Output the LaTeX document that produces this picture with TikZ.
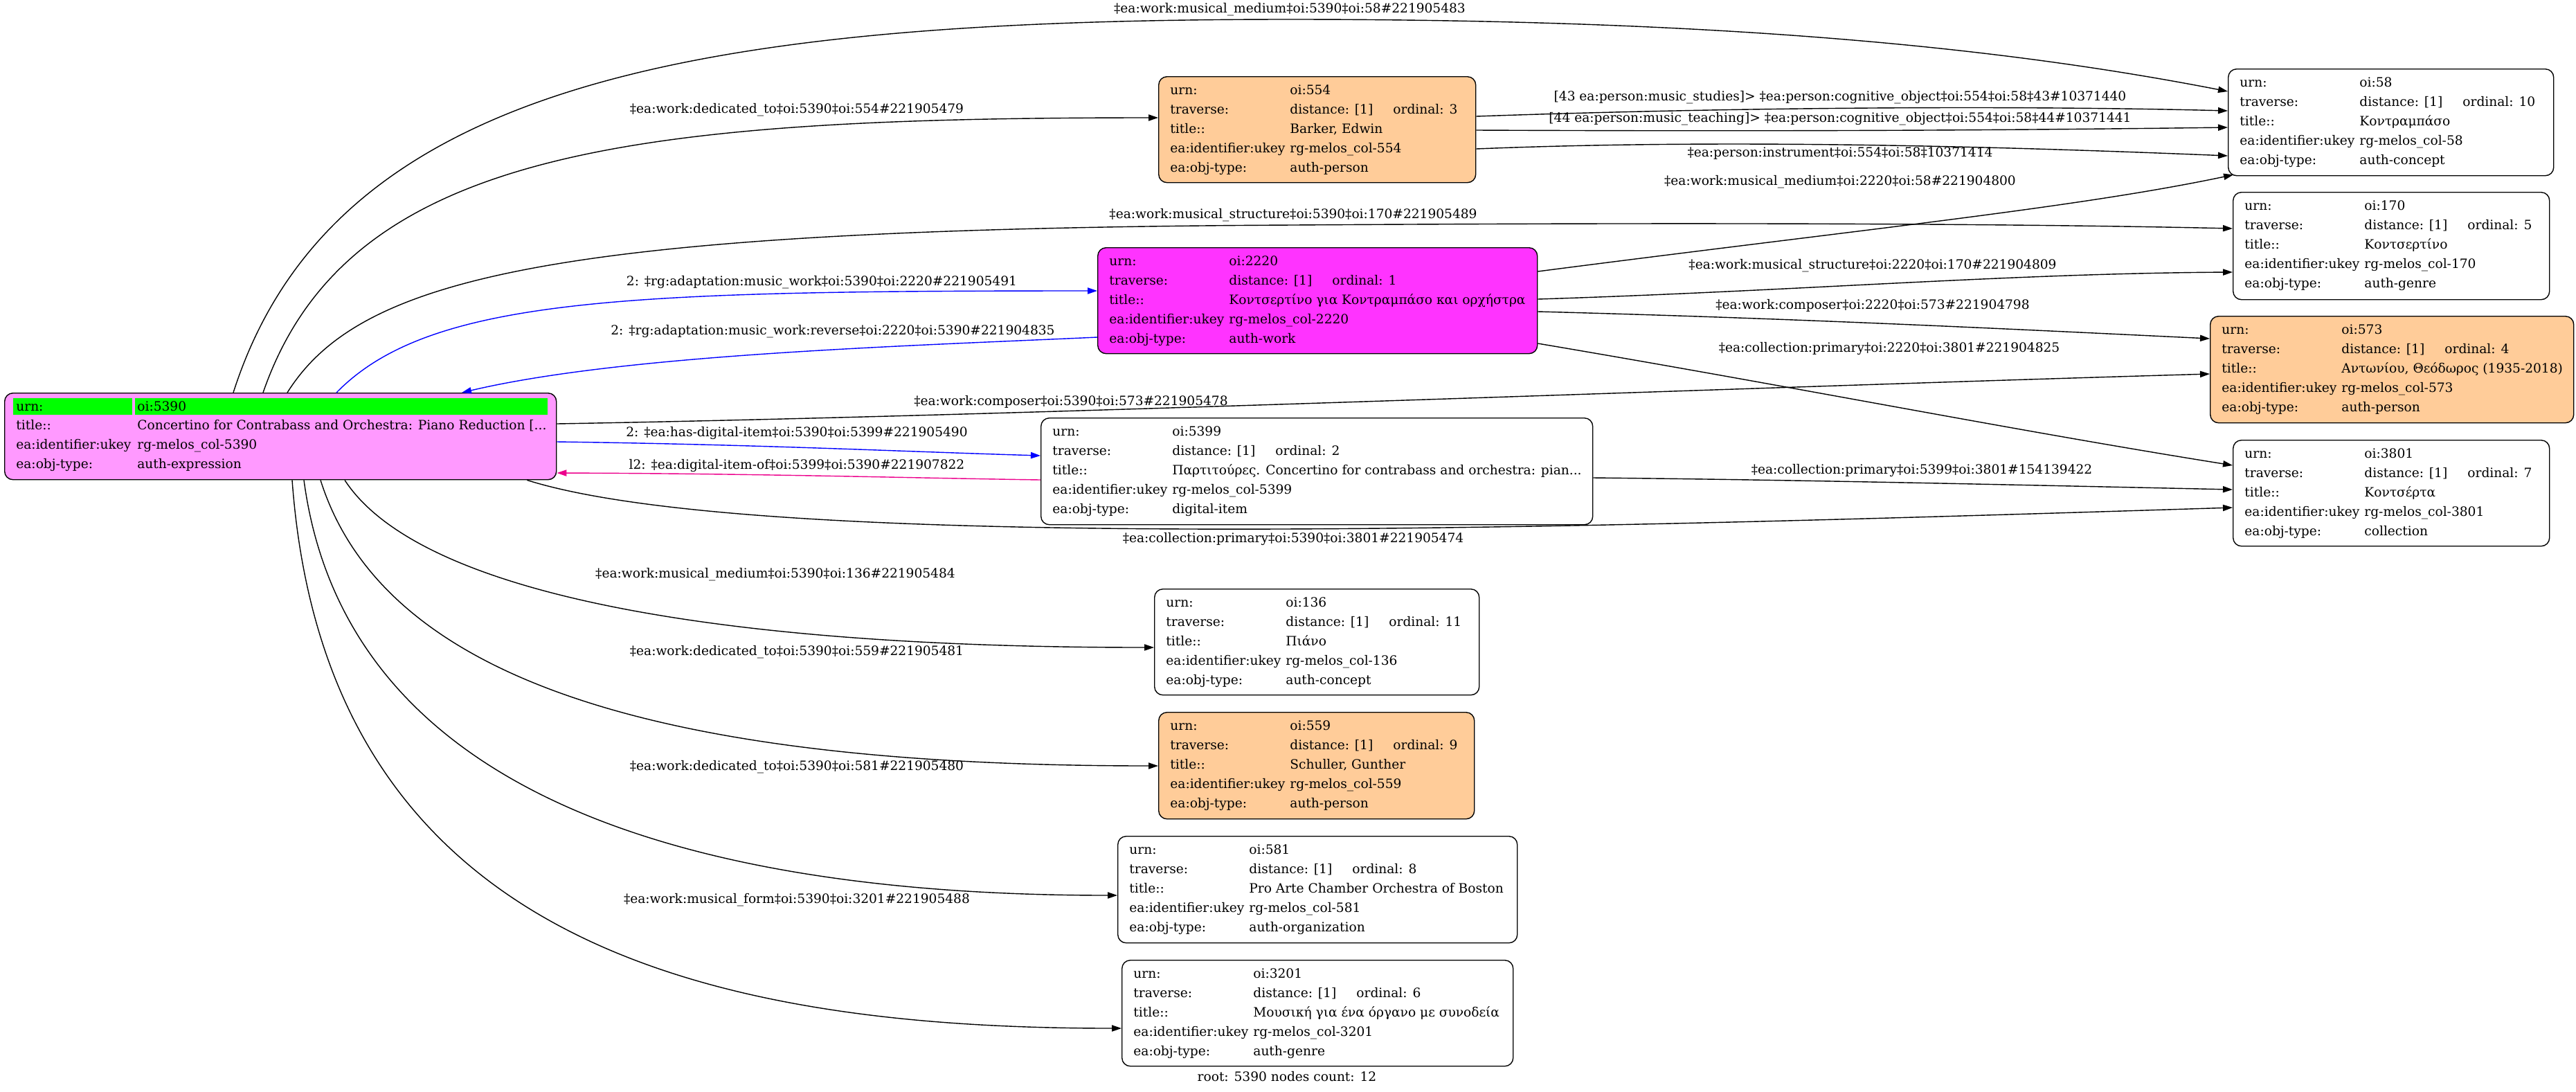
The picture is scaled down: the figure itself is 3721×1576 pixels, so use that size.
\documentclass[tikz,border=0pt]{standalone}
\usepackage{fontspec}
\setmainfont{DejaVu Serif}
\usetikzlibrary{arrows.meta, calc, positioning}
\definecolor{recorange}  {RGB}{255, 204, 153}
\definecolor{recpink}    {RGB}{255, 153, 255}
\definecolor{recmagenta} {RGB}{255,  51, 255}
\definecolor{recgreen}   {RGB}{  0, 255,   0}
\newcommand{\fsz}{\fontsize{9.3pt}{11pt}\selectfont}
% the five rows of a record: node, number, ordinal, title, type
\newcommand{\recfields}[5]{%
  \node[fld] (#1-k1) at ($(#1.north west)+(17,26)$)     {urn:};
  \node[fld] (#1-v1) at ($(#1.north west)+(190,26)$)    {oi:#2};
  \node[fld] (#1-k2) at ($(#1.north west)+(17,54.5)$)   {traverse:};
  \node[fld] (#1-v2) at ($(#1.north west)+(190,54.5)$)  {distance: [1]};
  \node[fld] (#1-o2) at ($(#1.north west)+(339,54.5)$)  {ordinal: #3};
  \node[fld] (#1-k3) at ($(#1.north west)+(17,82.5)$)   {title::};
  \node[fld] (#1-v3) at ($(#1.north west)+(190,82.5)$)  {#4};
  \node[fld] (#1-k4) at ($(#1.north west)+(17,110.5)$)  {ea:identifier:ukey};
  \node[fld] (#1-v4) at ($(#1.north west)+(190,110.5)$) {rg-melos\_col-#2};
  \node[fld] (#1-k5) at ($(#1.north west)+(17,138.5)$)  {ea:obj-type:};
  \node[fld] (#1-v5) at ($(#1.north west)+(190,138.5)$) {#5};}

\begin{document}
\begin{tikzpicture}[x=0.5pt, y=-0.5pt,
	rec/.style={draw, line width=0.7pt, rounded corners=6pt, anchor=north west, inner sep=0pt},
	sz/.style 2 args={minimum width=#1*0.5pt, minimum height=#2*0.5pt},
	fld/.style={anchor=base west, inner sep=0pt, font=\fsz},
	elab/.style={inner sep=0pt, font=\fsz},
	edge/.style={line width=0.7pt, -{Triangle[length=7pt, width=4.6pt]}}]
\useasboundingbox (0,0) rectangle (3721,1576);

% records
\node[rec, fill=recpink, sz={797}{125}] (root) at (6,567) {};
\fill[recgreen] ($(root.north west)+(13,8)$) rectangle ($(root.north west)+(185,32)$);
\fill[recgreen] ($(root.north west)+(189,8)$) rectangle ($(root.north west)+(785,32)$);
\node[fld] (root-k1) at ($(root.north west)+(17,26)$)  {urn:};
\node[fld] (root-v1) at ($(root.north west)+(192,26)$) {oi:5390};
\node[fld] (root-k2) at ($(root.north west)+(17,53)$)  {title::};
\node[fld] (root-v2) at ($(root.north west)+(192,53)$) {Concertino for Contrabass and Orchestra: Piano Reduction [...};
\node[fld] (root-k3) at ($(root.north west)+(17,81)$)  {ea:identifier:ukey};
\node[fld] (root-v3) at ($(root.north west)+(192,81)$) {rg-melos\_col-5390};
\node[fld] (root-k4) at ($(root.north west)+(17,109)$) {ea:obj-type:};
\node[fld] (root-v4) at ($(root.north west)+(192,109)$) {auth-expression};

\node[rec, fill=recorange, sz={458}{153}] (n554) at (1673,110) {};
\recfields{n554}{554}{3}{Barker, Edwin}{auth-person}
\node[rec, fill=recmagenta, sz={635}{153}] (n2220) at (1585,357) {};
\recfields{n2220}{2220}{1}{Κοντσερτίνο για Κοντραμπάσο και ορχήστρα}{auth-work}
\node[rec, fill=white, sz={797}{154}] (n5399) at (1503,603) {};
\recfields{n5399}{5399}{2}{Παρτιτούρες. Concertino for contrabass and orchestra: pian...}{digital-item}
\node[rec, fill=white, sz={470}{154}] (n58) at (3218,99) {};
\recfields{n58}{58}{10}{Κοντραμπάσο}{auth-concept}
\node[rec, fill=white, sz={457}{155}] (n170) at (3225,277) {};
\recfields{n170}{170}{5}{Κοντσερτίνο}{auth-genre}
\node[rec, fill=recorange, sz={525}{154}] (n573) at (3192,456) {};
\recfields{n573}{573}{4}{Αντωνίου, Θεόδωρος (1935-2018)}{auth-person}
\node[rec, fill=white, sz={457}{153}] (n3801) at (3225,635) {};
\recfields{n3801}{3801}{7}{Κοντσέρτα}{collection}
\node[rec, fill=white, sz={469}{153}] (n136) at (1667,850) {};
\recfields{n136}{136}{11}{Πιάνο}{auth-concept}
\node[rec, fill=recorange, sz={456}{154}] (n559) at (1673,1028) {};
\recfields{n559}{559}{9}{Schuller, Gunther}{auth-person}
\node[rec, fill=white, sz={577}{154}] (n581) at (1614,1207) {};
\recfields{n581}{581}{8}{Pro Arte Chamber Orchestra of Boston}{auth-organization}
\node[rec, fill=white, sz={565}{153}] (n3201) at (1620,1386) {};
\recfields{n3201}{3201}{6}{Μουσική για ένα όργανο με συνοδεία}{auth-genre}

% edges from the root
\draw[edge] ($(root.north west)+(331,0)$) .. controls (480,120) and (1000,28) .. (1863,28)
	.. controls (2500,28) and (2900,70) .. ($(n58.north west)+(0,33)$);
\draw[edge] ($(root.north west)+(374,0)$) .. controls (500,220) and (900,170) .. ($(n554.north west)+(0,60)$);
\draw[edge] ($(root.north west)+(409,0)$) .. controls (520,400) and (800,330) .. (1868,325)
	.. controls (2600,320) and (3000,325) .. ($(n170.north west)+(0,53)$);
\draw[edge, blue] ($(root.north west)+(480,0)$) .. controls (620,430) and (900,420) .. ($(n2220.north west)+(0,63)$);
\draw[edge, blue] ($(n2220.north west)+(0,130)$) .. controls (1300,500) and (900,512) .. ($(root.north west)+(661,0)$);
\draw[edge] ($(root.north east)+(0,45)$) .. controls (1500,600) and (2500,560) .. ($(n573.north west)+(0,84)$);
\draw[edge, blue] ($(root.north east)+(0,71)$) .. controls (1100,642) and (1300,652) .. ($(n5399.north west)+(0,55)$);
\draw[edge, magenta] ($(n5399.north west)+(0,90)$) .. controls (1300,690) and (1100,684) .. ($(root.north east)+(0,116)$);
\draw[edge] ($(root.south east)+(-43,0)$) .. controls (1100,800) and (2300,762) .. ($(n3801.north west)+(0,98)$);
\draw[edge] ($(root.south west)+(492,0)$) .. controls (600,850) and (1000,935) .. ($(n136.north west)+(0,85)$);
\draw[edge] ($(root.south west)+(457,0)$) .. controls (560,1000) and (1000,1106) .. ($(n559.north west)+(0,78)$);
\draw[edge] ($(root.south west)+(433,0)$) .. controls (500,1150) and (1000,1293) .. ($(n581.north west)+(0,86)$);
\draw[edge] ($(root.south west)+(416,0)$) .. controls (470,1350) and (1000,1485) .. ($(n3201.north west)+(0,99)$);

% edges between the other records
\draw[edge] ($(n554.north east)+(0,58)$) .. controls (2500,155) and (2900,152) .. ($(n58.north west)+(0,61)$);
\draw[edge] ($(n554.north east)+(0,78)$) .. controls (2600,190) and (2900,188) .. ($(n58.north west)+(0,85)$);
\draw[edge] ($(n554.north east)+(0,105)$) .. controls (2500,200) and (2900,212) .. ($(n58.north west)+(0,126)$);
\draw[edge] ($(n2220.north east)+(0,35)$) .. controls (2700,330) and (3000,300) .. ($(n58.south west)+(8,-2)$);
\draw[edge] ($(n2220.north east)+(0,75)$) .. controls (2600,420) and (2900,395) .. ($(n170.north west)+(0,116)$);
\draw[edge] ($(n2220.north east)+(0,93)$) .. controls (2600,460) and (2900,475) .. ($(n573.north west)+(0,33)$);
\draw[edge] ($(n2220.north east)+(0,139)$) .. controls (2600,560) and (2900,620) .. ($(n3801.north west)+(0,37)$);
\draw[edge] ($(n5399.north east)+(0,87)$) .. controls (2600,693) and (2900,700) .. ($(n3801.north west)+(0,72)$);

% edge labels
\node[elab] (l1)  at (1863,14)  {‡ea:work:musical\_medium‡oi:5390‡oi:58\#221905483};
\node[elab] (l2)  at (1151,159) {‡ea:work:dedicated\_to‡oi:5390‡oi:554\#221905479};
\node[elab] (l3)  at (1868,311) {‡ea:work:musical\_structure‡oi:5390‡oi:170\#221905489};
\node[elab] (l4)  at (1187,408) {2: ‡rg:adaptation:music\_work‡oi:5390‡oi:2220\#221905491};
\node[elab] (l5)  at (1203,479) {2: ‡rg:adaptation:music\_work:reverse‡oi:2220‡oi:5390\#221904835};
\node[elab] (l6)  at (1547,580) {‡ea:work:composer‡oi:5390‡oi:573\#221905478};
\node[elab] (l7)  at (1151,625) {2: ‡ea:has-digital-item‡oi:5390‡oi:5399\#221905490};
\node[elab] (l8)  at (1151,672) {l2: ‡ea:digital-item-of‡oi:5399‡oi:5390\#221907822};
\node[elab] (l9)  at (1868,778) {‡ea:collection:primary‡oi:5390‡oi:3801\#221905474};
\node[elab] (l10) at (1120,830) {‡ea:work:musical\_medium‡oi:5390‡oi:136\#221905484};
\node[elab] (l11) at (1151,942) {‡ea:work:dedicated\_to‡oi:5390‡oi:559\#221905481};
\node[elab] (l12) at (1151,1108) {‡ea:work:dedicated\_to‡oi:5390‡oi:581\#221905480};
\node[elab] (l13) at (1151,1300) {‡ea:work:musical\_form‡oi:5390‡oi:3201\#221905488};
\node[elab] (l14) at (2658,141) {[43 ea:person:music\_studies]> ‡ea:person:cognitive\_object‡oi:554‡oi:58‡43\#10371440};
\node[elab] (l15) at (2658,172) {[44 ea:person:music\_teaching]> ‡ea:person:cognitive\_object‡oi:554‡oi:58‡44\#10371441};
\node[elab] (l16) at (2658,222) {‡ea:person:instrument‡oi:554‡oi:58‡10371414};
\node[elab] (l17) at (2658,263) {‡ea:work:musical\_medium‡oi:2220‡oi:58\#221904800};
\node[elab] (l18) at (2705,384) {‡ea:work:musical\_structure‡oi:2220‡oi:170\#221904809};
\node[elab] (l19) at (2705,441) {‡ea:work:composer‡oi:2220‡oi:573\#221904798};
\node[elab] (l20) at (2729,503) {‡ea:collection:primary‡oi:2220‡oi:3801\#221904825};
\node[elab] (l21) at (2776,679) {‡ea:collection:primary‡oi:5399‡oi:3801\#154139422};

\node[elab] (footer) at (1859,1555) {root: 5390 nodes count: 12};
\end{tikzpicture}
\end{document}
